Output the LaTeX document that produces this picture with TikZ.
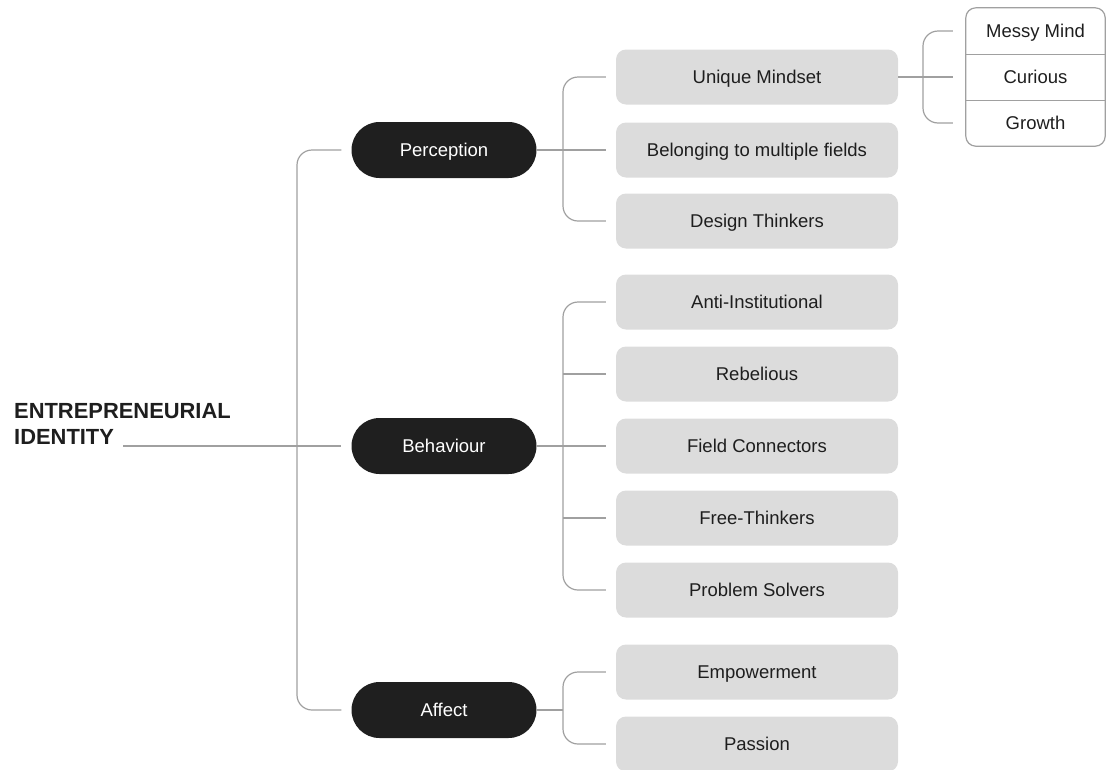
\documentclass[tikz,border=0pt]{standalone}
\usepackage{fontspec}
\setmainfont{Liberation Sans}
\usetikzlibrary{calc}
\definecolor{pillc}{HTML}{1F1F1F}
\definecolor{boxc}{HTML}{DCDCDC}
\definecolor{linec}{HTML}{A0A0A0}
\definecolor{txtc}{HTML}{1E1E1E}
\tikzset{
  lbl/.style={font=\fontsize{18.5}{22}\selectfont, text height=13.3pt, text depth=0.3pt},
  pill/.style={lbl, fill=pillc, text=white, rounded corners=28pt, minimum width=185pt, minimum height=56pt, inner sep=0pt},
  gbox/.style={lbl, fill=boxc, text=txtc, rounded corners=10pt, minimum width=282pt, minimum height=55pt, inner sep=0pt},
  trait/.style={lbl, text=txtc, minimum width=139pt, minimum height=46pt, inner sep=0pt},
  conn/.style={draw=linec, line width=1.2pt, rounded corners=15pt},
}
\begin{document}
\begin{tikzpicture}[x=1pt,y=-1pt]
\useasboundingbox (0,0) rectangle (1106,769);
% root label
\node[anchor=north west, inner sep=0pt, align=left, text=txtc, font=\fontsize{21.9}{26.5}\selectfont\bfseries] (root) at (14,403) {ENTREPRENEURIAL\\IDENTITY};
\coordinate (rootend) at (123,446);
% level 1
\node[pill] (per) at (444,150) {Perception};
\node[pill] (beh) at (444,446) {Behaviour};
\node[pill] (aff) at (444,710) {Affect};
% level 2
\node[gbox] (um) at (757,77) {Unique Mindset};
\node[gbox] (bel) at (757,150) {Belonging to multiple fields};
\node[gbox] (dt) at (757,221) {Design Thinkers};
\node[gbox] (ai) at (757,302) {Anti-Institutional};
\node[gbox] (reb) at (757,374) {Rebelious};
\node[gbox] (fc) at (757,446) {Field Connectors};
\node[gbox] (ft) at (757,518) {Free-Thinkers};
\node[gbox] (ps) at (757,590) {Problem Solvers};
\node[gbox] (emp) at (757,672) {Empowerment};
\node[gbox] (pas) at (757,744) {Passion};
% level 3
\node[trait] (t1) at (1035.5,31) {Messy Mind};
\node[trait] (t2) at (1035.5,77) {Curious};
\node[trait] (t3) at (1035.5,123) {Growth};
\draw[draw=linec, line width=1.2pt, rounded corners=10pt] (t1.north west) rectangle (t3.south east);
\draw[draw=linec, line width=1.2pt] (t1.south west) -- (t1.south east);
\draw[draw=linec, line width=1.2pt] (t2.south west) -- (t2.south east);
% root connectors
\draw[conn] (rootend) -- ($(beh.west)+(-10,0)$);
\draw[conn] ($(per.west)+(-10,0)$) -| (297,430) |- ($(aff.west)+(-10,0)$);
% perception
\draw[conn] (per.east) -- ($(bel.west)+(-10,0)$);
\draw[conn] ($(um.west)+(-10,0)$) -| (563,150) |- ($(dt.west)+(-10,0)$);
% behaviour
\draw[conn] (beh.east) -- ($(fc.west)+(-10,0)$);
\draw[conn] ($(ai.west)+(-10,0)$) -| (563,446) |- ($(ps.west)+(-10,0)$);
\draw[conn] (563,374) -- ($(reb.west)+(-10,0)$);
\draw[conn] (563,518) -- ($(ft.west)+(-10,0)$);
% affect
\draw[conn] (aff.east) -- (563,710);
\draw[conn] ($(emp.west)+(-10,0)$) -| (563,710) |- ($(pas.west)+(-10,0)$);
% unique mindset
\draw[conn] (um.east) -- ($(t2.west)+(-13,0)$);
\draw[conn] ($(t1.west)+(-13,0)$) -| (923,77) |- ($(t3.west)+(-13,0)$);
\end{tikzpicture}
\end{document}
